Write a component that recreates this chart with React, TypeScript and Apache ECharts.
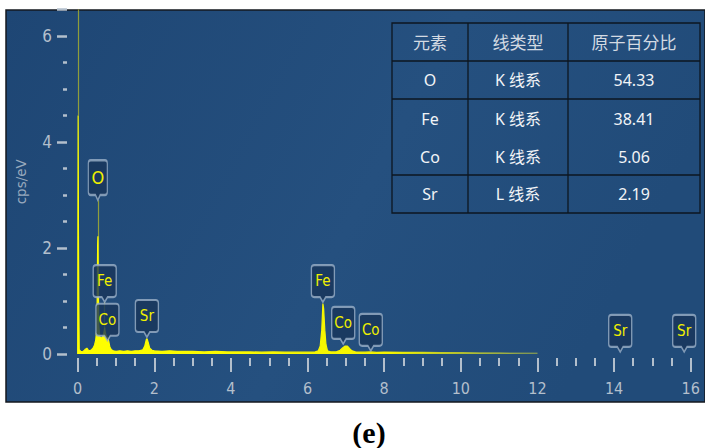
import React, { useEffect, useRef } from "react";
import * as echarts from "echarts";

// EDS spectrum (energy in keV, intensity in cps/eV)
const spectrumKeV = [
  0, 0.005, 0.012, 0.02, 0.03, 0.04, 0.08, 0.12, 0.16, 0.2, 0.24, 0.28, 0.32, 0.36, 0.4, 0.44,
  0.47, 0.495, 0.51, 0.52, 0.528, 0.536, 0.55, 0.575, 0.6, 0.63, 0.66, 0.69, 0.705, 0.72, 0.75,
  0.78, 0.81, 0.84, 0.88, 0.93, 1.0, 1.1, 1.2, 1.3, 1.4, 1.5, 1.6, 1.7, 1.75, 1.79, 1.81, 1.84,
  1.88, 1.94, 2.0, 2.2, 2.4, 2.6, 2.8, 3.0, 3.3, 3.6, 3.9, 4.2, 4.5, 4.8, 5.1, 5.4, 5.7, 6.0,
  6.2, 6.28, 6.33, 6.37, 6.4, 6.42, 6.45, 6.48, 6.52, 6.6, 6.75, 6.85, 6.92, 6.98, 7.04, 7.1,
  7.16, 7.25, 7.5, 7.65, 7.8, 8.0, 8.5, 9.0, 9.5, 10.0, 10.5, 11.0, 11.5, 12.0,
];
const spectrumCps = [
  0, 2.4, 4.5, 2.3, 0.9, 0.08, 0.05, 0.04, 0.06, 0.09, 0.11, 0.07, 0.06, 0.08, 0.11, 0.17,
  0.26, 0.45, 1.1, 2.05, 2.22, 1.4, 0.55, 0.33, 0.3, 0.31, 0.34, 0.42, 0.5, 0.4, 0.33,
  0.31, 0.24, 0.13, 0.08, 0.06, 0.05, 0.06, 0.05, 0.06, 0.05, 0.06, 0.06, 0.08, 0.15, 0.27, 0.29, 0.22,
  0.11, 0.07, 0.06, 0.05, 0.06, 0.05, 0.05, 0.05, 0.04, 0.05, 0.04, 0.04, 0.04, 0.035, 0.04, 0.035, 0.035, 0.035,
  0.04, 0.06, 0.15, 0.45, 0.95, 0.85, 0.45, 0.18, 0.06, 0.04, 0.04, 0.07, 0.12, 0.15, 0.15, 0.1,
  0.06, 0.04, 0.035, 0.04, 0.03, 0.035, 0.03, 0.03, 0.025, 0.025, 0.02, 0.02, 0.015, 0.015,
];

// Peak identification markers
const peakNames = ["O", "Fe", "Co", "Sr", "Fe", "Co", "Co", "Sr", "Sr"];
const peakKeV = [0.525, 0.705, 0.776, 1.806, 6.4, 6.93, 7.65, 14.16, 15.83];
const peakMarkerCps = [2.9, 0.98, 0.25, 0.32, 0.98, 0.19, 0.06, 0.04, 0.04];

// Guide lines: [keV, from cps, to cps]
const guideKeV = [0.012, 0.525, 0.705];
const guideFrom = [4.5, 2.9, 0.98];
const guideTo = [6.5, 0, 0];

// Quantification table
const tableHeader = ["元素", "线类型", "原子百分比"];
const tableElements = ["O", "Fe", "Co", "Sr"];
const tableLines = ["K 线系", "K 线系", "K 线系", "L 线系"];
const tableAtomicPct = [54.33, 38.41, 5.06, 2.19];

const xRange = { min: 0, max: 16, interval: 2 };
const yRange = { min: 0, max: 6.5, interval: 2 };

const NARROW = '"Liberation Sans Narrow", "DejaVu Sans Condensed", "Roboto", sans-serif';
const TABLE_FONT = '"Noto Sans", "Noto Sans CJK SC", sans-serif';
const TICK_COLOR = "#b3bfcc";
const MARKER_PATH =
  "path://M3,0 L21,0 Q24,0 24,3 L24,29 Q24,32 21,32 L15,32 L12,37 L9,32 L3,32 Q0,32 0,29 L0,3 Q0,0 3,0 Z";

// plot area
const PLOT = { left: 77.7, right: 14.3, top: 9.5, bottom: 94 };

function buildTable(): any[] {
  const left = 392;
  const colX = [392, 468, 568, 700];
  const rowY = [23, 61, 99, 137, 175, 213];
  const ruled = [61, 99, 175];
  const rowCenters = [42, 80, 118.5, 156.5, 194];
  const stroke = "#0d1620";
  const els: any[] = [];
  els.push({
    type: "rect",
    shape: { x: left, y: rowY[0], width: colX[3] - left, height: rowY[5] - rowY[0] },
    style: { fill: "transparent", stroke, lineWidth: 1.3 },
  });
  ruled.forEach((y) =>
    els.push({ type: "line", shape: { x1: left, y1: y, x2: colX[3], y2: y }, style: { stroke, lineWidth: 1.3 } })
  );
  [colX[1], colX[2]].forEach((x) =>
    els.push({ type: "line", shape: { x1: x, y1: rowY[0], x2: x, y2: rowY[5] }, style: { stroke, lineWidth: 1.3 } })
  );
  const colCenters = [(colX[0] + colX[1]) / 2, (colX[1] + colX[2]) / 2, (colX[2] + colX[3]) / 2];
  tableHeader.forEach((t, i) =>
    els.push({
      type: "text",
      x: colCenters[i],
      y: rowCenters[0],
      style: {
        text: t,
        textAlign: "center",
        textVerticalAlign: "middle",
        fill: "#d3dae2",
        font: `17px ${TABLE_FONT}`,
      },
    })
  );
  tableElements.forEach((el, r) => {
    const cells = [el, tableLines[r], tableAtomicPct[r].toFixed(2)];
    cells.forEach((t, c) =>
      els.push({
        type: "text",
        x: colCenters[c],
        y: rowCenters[r + 1],
        style: {
          text: t,
          textAlign: "center",
          textVerticalAlign: "middle",
          fill: "#f2f4f7",
          font: `16px ${TABLE_FONT}`,
        },
      })
    );
  });
  return els;
}

export default function App() {
  const ref = useRef<HTMLDivElement>(null);

  useEffect(() => {
    if (!ref.current) return;
    const chart = echarts.init(ref.current, undefined, { renderer: "svg" });

    const spectrum = spectrumKeV.map((e, i) => [e, spectrumCps[i]]);
    const markers = peakNames.map((n, i) => ({
      name: n,
      value: [peakKeV[i], peakMarkerCps[i]],
      symbolSize: [n.length === 1 ? 19 : 23, n === "O" ? 40 : 37],
      label: n.length === 1 ? { fontSize: 18, offset: [0, -2.7] } : undefined,
    }));
    const guides = guideKeV.map((e, i) => ({
      coords: [
        [e, guideFrom[i]],
        [e, guideTo[i]],
      ],
    }));

    const fadeStops = [
      { offset: 0, color: "#ffff00" },
      { offset: 0.68, color: "#f4f400" },
      { offset: 1, color: "rgba(190,200,60,0.45)" },
    ];

    const tickStyle = (len: number, w: number) => ({ show: true, length: len, lineStyle: { color: TICK_COLOR, width: w } });
    const hidden = { show: false };

    chart.setOption({
      animation: false,
      backgroundColor: "#ffffff",
      grid: [
        // data area
        { ...PLOT, show: false, outerBoundsMode: "none" },
        // y scale, detached to the left of the plot
        { left: 67, width: 1, top: PLOT.top, bottom: PLOT.bottom, show: false, outerBoundsMode: "none" },
        // x scale, detached below the plot
        { left: PLOT.left, right: PLOT.right, top: 357, bottom: 90, show: false, outerBoundsMode: "none" },
      ],
      graphic: [
        {
          type: "rect",
          z: -10,
          shape: { x: 6, y: 10, width: 699, height: 392 },
          style: {
            fill: new echarts.graphic.LinearGradient(0, 0, 1, 0.3, [
              { offset: 0, color: "#1e4674" },
              { offset: 0.6, color: "#25507f" },
              { offset: 1, color: "#214b79" },
            ]),
            stroke: "#15191f",
            lineWidth: 1.5,
          },
        },
        { type: "group", z: 50, children: buildTable() },
        {
          type: "text",
          x: 369,
          y: 432,
          style: {
            text: "(e)",
            textAlign: "center",
            textVerticalAlign: "middle",
            fill: "#000000",
            font: 'bold 30px "Liberation Serif", "DejaVu Serif", serif',
          },
        },
      ],
      xAxis: [
        { type: "value", gridIndex: 0, ...xRange, show: false },
        { type: "value", gridIndex: 1, min: 0, max: 1, show: false },
        {
          type: "value",
          gridIndex: 2,
          ...xRange,
          position: "bottom",
          axisLine: hidden,
          axisTick: tickStyle(14, 2),
          minorTick: { ...tickStyle(8, 2), splitNumber: 4 },
          axisLabel: { color: TICK_COLOR, fontSize: 16, margin: 22, fontFamily: NARROW },
          splitLine: hidden,
          minorSplitLine: hidden,
        },
      ],
      yAxis: [
        { type: "value", gridIndex: 0, ...yRange, show: false },
        {
          type: "value",
          gridIndex: 1,
          ...yRange,
          position: "left",
          name: "cps/eV",
          nameLocation: "middle",
          nameGap: 39,
          nameTextStyle: { color: "#98a9bd", fontSize: 13.5, fontFamily: '"DejaVu Sans", sans-serif' },
          axisLine: hidden,
          axisTick: tickStyle(10, 2.5),
          minorTick: { ...tickStyle(4, 2.5), splitNumber: 4 },
          axisLabel: { color: TICK_COLOR, fontSize: 17, margin: 15, fontFamily: NARROW, showMaxLabel: false },
          splitLine: hidden,
          minorSplitLine: hidden,
        },
        { type: "value", gridIndex: 2, min: 0, max: 1, show: false },
      ],
      series: [
        {
          type: "lines",
          coordinateSystem: "cartesian2d",
          xAxisIndex: 0,
          yAxisIndex: 0,
          z: 1,
          silent: true,
          data: guides,
          lineStyle: { color: "rgba(180,185,40,0.75)", width: 1.2, opacity: 1 },
        },
        {
          type: "line",
          xAxisIndex: 0,
          yAxisIndex: 0,
          z: 2,
          data: spectrum,
          symbol: "none",
          silent: true,
          lineStyle: { color: new echarts.graphic.LinearGradient(0, 0, 1, 0, fadeStops), width: 1.2 },
          areaStyle: { color: new echarts.graphic.LinearGradient(0, 0, 1, 0, fadeStops), opacity: 1 },
        },
        {
          type: "scatter",
          xAxisIndex: 0,
          yAxisIndex: 0,
          z: 5,
          silent: true,
          data: markers,
          symbol: MARKER_PATH,
          symbolOffset: [0, "-50%"],
          itemStyle: {
            color: "rgba(24,54,90,0.82)",
            borderColor: "rgba(155,176,200,0.8)",
            borderWidth: 1.7,
            opacity: 1,
          },
          label: {
            show: true,
            position: "inside",
            formatter: "{b}",
            color: "#f0f000",
            fontSize: 15,
            fontFamily: NARROW,
            offset: [0, -2.5],
          },
        },
      ],
    });

    return () => chart.dispose();
  }, []);

  return (
    <div
      ref={ref}
      style={{ position: "fixed", left: 0, top: 0, width: 705, height: 448 }}
    />
  );
}
